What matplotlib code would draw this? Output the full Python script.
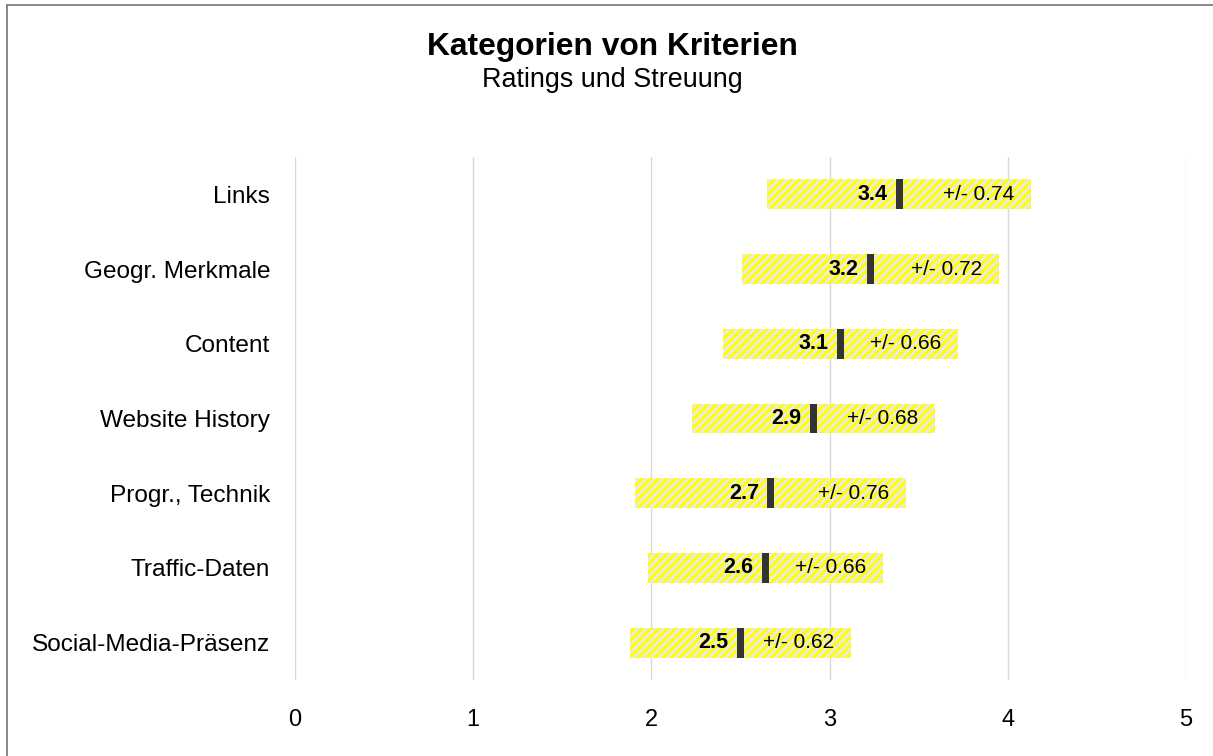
import matplotlib
matplotlib.use("Agg")
import matplotlib.pyplot as plt
from matplotlib.lines import Line2D

categories = ["Links", "Geogr. Merkmale", "Content", "Website History",
              "Progr., Technik", "Traffic-Daten", "Social-Media-Präsenz"]
means = [3.39, 3.23, 3.06, 2.91, 2.67, 2.64, 2.50]
stds = [0.74, 0.72, 0.66, 0.68, 0.76, 0.66, 0.62]
xticks = [0, 1, 2, 3, 4, 5]

plt.rcParams['font.family'] = ['Liberation Sans', 'DejaVu Sans']
plt.rcParams['hatch.linewidth'] = 2.0

fig = plt.figure(figsize=(12.13, 7.56), dpi=100)
ax = fig.add_axes([295/1213, 1-680/756, (1186-295)/1213, (680-157)/756])

ypos = list(range(len(categories)))
bar_h = 0.4
lefts = [m - s for m, s in zip(means, stds)]
widths = [2 * s for s in stds]
ax.barh(ypos, widths, left=lefts, height=bar_h, color='#FFFF00',
        edgecolor='#EAEAEA', linewidth=0, hatch='////', zorder=2)
mw = 0.04
ax.barh(ypos, [mw]*len(means), left=[m - mw/2 for m in means], height=bar_h,
        color='#333333', linewidth=0, zorder=3)

for y, m, s in zip(ypos, means, stds):
    ax.annotate(f"{m:.1f}", xy=(m - mw/2, y), xytext=(-6, 0), textcoords='offset points',
                ha='right', va='center', fontsize=15.5, fontweight='bold', zorder=4)
    ax.annotate(f"+/- {s:.2f}", xy=(m + s, y), xytext=(-12, 0), textcoords='offset points',
                ha='right', va='center', fontsize=15, zorder=4)

ax.set_xlim(0, 5)
ax.set_ylim(len(categories) - 0.5, -0.5)
ax.set_xticks(xticks)
ax.set_xticklabels([str(t) for t in xticks])
ax.set_yticks(ypos)
ax.set_yticklabels(categories)
ax.tick_params(axis='y', length=0, pad=18, labelsize=17.6)
ax.tick_params(axis='x', length=0, pad=21, labelsize=17)
ax.grid(axis='x', color='#D9D9D9', linewidth=1, zorder=0)
ax.set_axisbelow(True)
for sp in ax.spines.values():
    sp.set_visible(False)

fig.text(0.5045, 1-47/756, "Kategorien von Kriterien", ha='center', va='center',
         fontsize=22.9, fontweight='bold')
fig.text(0.5045, 1-80/756, "Ratings und Streuung", ha='center', va='center', fontsize=19.4)

fig.add_artist(Line2D([7/1213, 7/1213], [0, 1-5/756], transform=fig.transFigure,
                      color='#7F7F7F', linewidth=1.3))
fig.add_artist(Line2D([7/1213, 1], [1-5/756, 1-5/756], transform=fig.transFigure,
                      color='#7F7F7F', linewidth=1.3))

fig.savefig("out.png", dpi=100)
